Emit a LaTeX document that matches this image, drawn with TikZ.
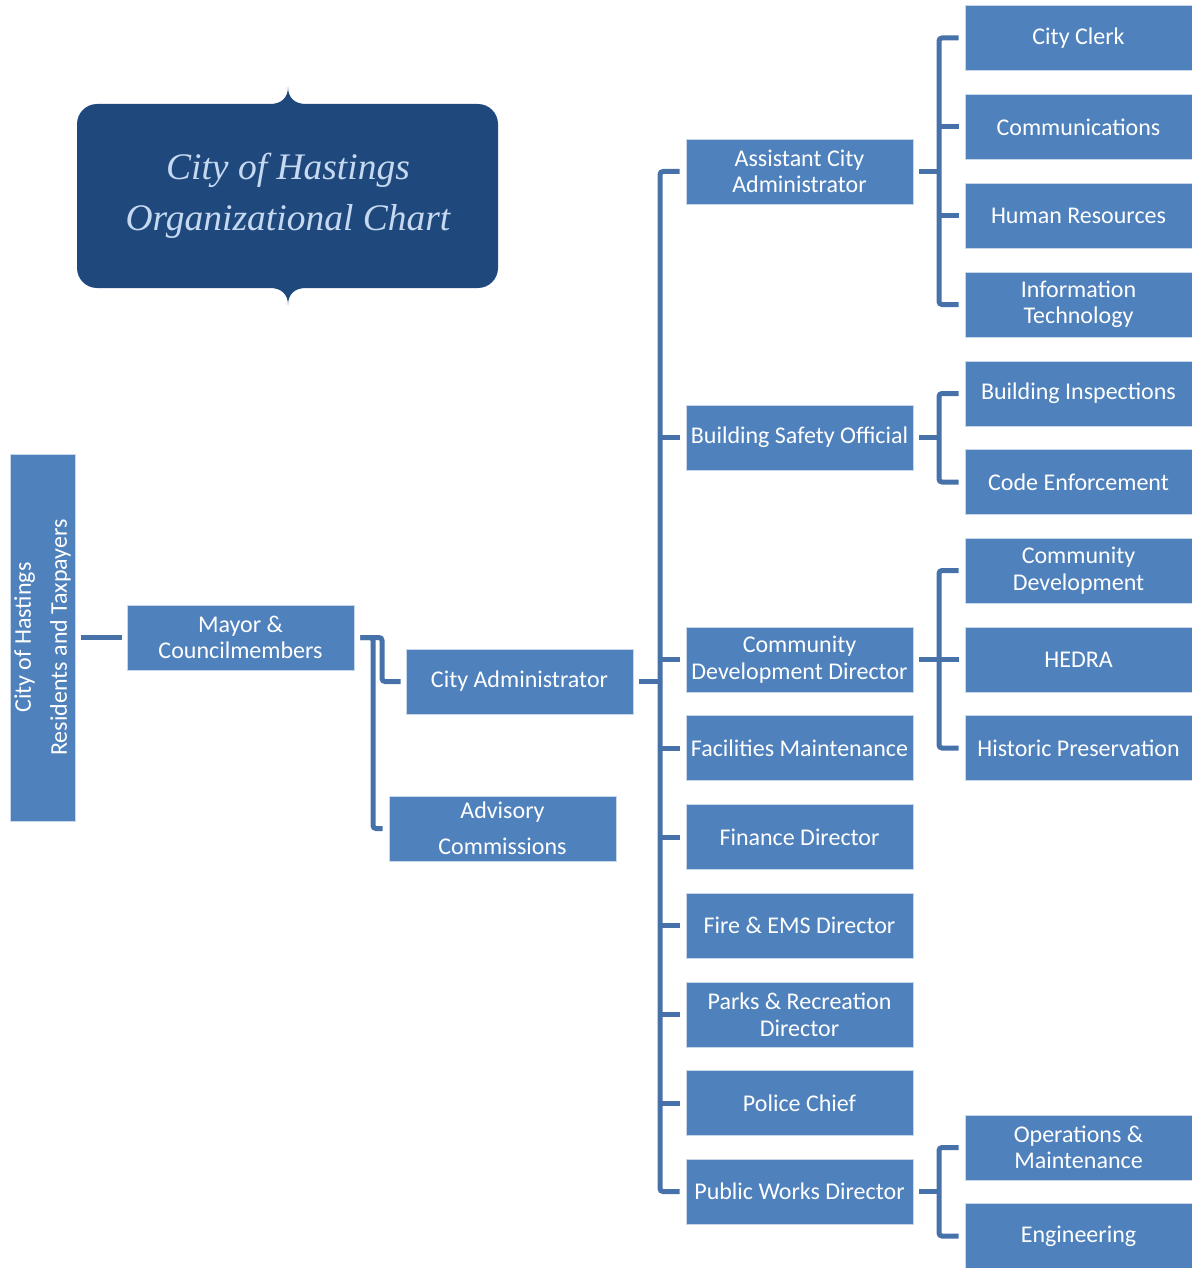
\documentclass[tikz,border=0pt]{standalone}
\usepackage{fontspec}
\setmainfont{Carlito}
\newfontfamily\titlefont{Liberation Serif}
\usetikzlibrary{calc}
\definecolor{boxblue}{HTML}{4F81BD}
\definecolor{boxedge}{HTML}{C9D7EA}
\definecolor{linkblue}{HTML}{4672A9}
\definecolor{titleblue}{HTML}{1F497D}
\definecolor{titletext}{HTML}{C6D9F1}
\begin{document}
\begin{tikzpicture}[x=1pt,y=-1pt,
  box/.style={fill=boxblue, draw=boxedge, line width=0.8pt, minimum width=227pt,
    minimum height=65pt, inner sep=0pt, text=white, align=center,
    font=\fontsize{24}{26.5}\selectfont},
  widebox/.style={box, font=\fontsize{24}{36}\selectfont},
  conn/.style={draw=linkblue, line width=5pt, rounded corners=3pt},
  titlestyle/.style={text=titletext, inner sep=0pt, font=\titlefont\itshape\fontsize{37.5}{44}\selectfont}]
\useasboundingbox (0,0) rectangle (1191,1268);

% title shape
\fill[titleblue] (97,104) -- (270,104) .. controls (281,104) and (288,98) .. (288,87)
  .. controls (288,98) and (295,104) .. (306,104) -- (478,104)
  .. controls (489,104) and (498,113) .. (498,124) -- (498,268)
  .. controls (498,279) and (489,288) .. (478,288) -- (306,288)
  .. controls (295,288) and (288,294) .. (288,305)
  .. controls (288,294) and (281,288) .. (270,288) -- (97,288)
  .. controls (86,288) and (77,279) .. (77,268) -- (77,124)
  .. controls (77,113) and (86,104) .. (97,104) -- cycle;
\node[titlestyle, anchor=base] (t1) at (288,180) {City of Hastings};
\node[titlestyle, anchor=base] (t2) at (288,230) {Organizational Chart};

% left part
\node[widebox, rotate=90, minimum width=367pt, minimum height=65pt] (res) at (42.5,637.5) {City of Hastings\\Residents and Taxpayers};
\node[box] (mayor) at (240.5,637.5) {Mayor \&\\Councilmembers};
\node[box] (cadmin) at (519.5,681.5) {City Administrator};
\node[widebox] (adv) at (502.5,828.5) {Advisory\\Commissions};

% middle column
\node[box] (aca) at (799.5,171.5) {Assistant City\\Administrator};
\node[box] (bso) at (799.5,437.5) {Building Safety Official};
\node[box] (cdd) at (799.5,659.5) {Community\\Development Director};
\node[box] (fac) at (799.5,748) {Facilities Maintenance};
\node[box] (fin) at (799.5,837) {Finance Director};
\node[box] (fire) at (799.5,925.5) {Fire \& EMS Director};
\node[box] (parks) at (799.5,1014.5) {Parks \& Recreation\\Director};
\node[box] (police) at (799.5,1103) {Police Chief};
\node[box] (pwd) at (799.5,1191.5) {Public Works Director};

% right column
\node[box] (clerk) at (1078.5,38) {City Clerk};
\node[box] (comm) at (1078.5,127) {Communications};
\node[box] (hr) at (1078.5,215.5) {Human Resources};
\node[box] (it) at (1078.5,304.5) {Information\\Technology};
\node[box] (insp) at (1078.5,393.5) {Building Inspections};
\node[box] (code) at (1078.5,482) {Code Enforcement};
\node[box] (cd) at (1078.5,570.5) {Community\\Development};
\node[box] (hedra) at (1078.5,659.5) {HEDRA};
\node[box] (hist) at (1078.5,748) {Historic Preservation};
\node[box] (ops) at (1078.5,1147.5) {Operations \&\\Maintenance};
\node[box] (eng) at (1078.5,1236) {Engineering};

% connectors left
\draw[conn] ($(res.south)+(6,0)$) -- ($(mayor.west)+(-5,0)$);
\coordinate (m1) at (382,0);
\coordinate (m2) at (373,0);
\draw[conn] ($(mayor.east)+(6,0)$) -- (m1 |- mayor.east) -- (m1 |- cadmin.west) -- ($(cadmin.west)+(-5,0)$);
\draw[conn] ($(mayor.east)+(6,0)$) -- (m2 |- mayor.east) -- (m2 |- adv.west) -- ($(adv.west)+(-6,0)$);

% city administrator bracket
\coordinate (bx) at (660,0);
\draw[conn] ($(cadmin.east)+(6,0)$) -- (bx |- cadmin.east);
\draw[conn] ($(aca.west)+(-6,0)$) -- (bx |- aca.west) -- (bx |- pwd.west) -- ($(pwd.west)+(-6,0)$);
\foreach \n in {bso,cdd,fac,fin,fire,parks,police}
  \draw[conn] (bx |- \n.west) -- ($(\n.west)+(-6,0)$);

% right brackets
\coordinate (br) at (939,0);
\draw[conn] ($(aca.east)+(6,0)$) -- (br |- aca.east);
\draw[conn] ($(clerk.west)+(-6,0)$) -- (br |- clerk.west) -- (br |- it.west) -- ($(it.west)+(-6,0)$);
\foreach \n in {comm,hr}
  \draw[conn] (br |- \n.west) -- ($(\n.west)+(-6,0)$);

\draw[conn] ($(bso.east)+(6,0)$) -- (br |- bso.east);
\draw[conn] ($(insp.west)+(-6,0)$) -- (br |- insp.west) -- (br |- code.west) -- ($(code.west)+(-6,0)$);

\draw[conn] ($(cdd.east)+(6,0)$) -- (br |- cdd.east);
\draw[conn] ($(cd.west)+(-6,0)$) -- (br |- cd.west) -- (br |- hist.west) -- ($(hist.west)+(-6,0)$);
\draw[conn] (br |- hedra.west) -- ($(hedra.west)+(-6,0)$);

\draw[conn] ($(pwd.east)+(6,0)$) -- (br |- pwd.east);
\draw[conn] ($(ops.west)+(-6,0)$) -- (br |- ops.west) -- (br |- eng.west) -- ($(eng.west)+(-6,0)$);
\end{tikzpicture}
\end{document}
